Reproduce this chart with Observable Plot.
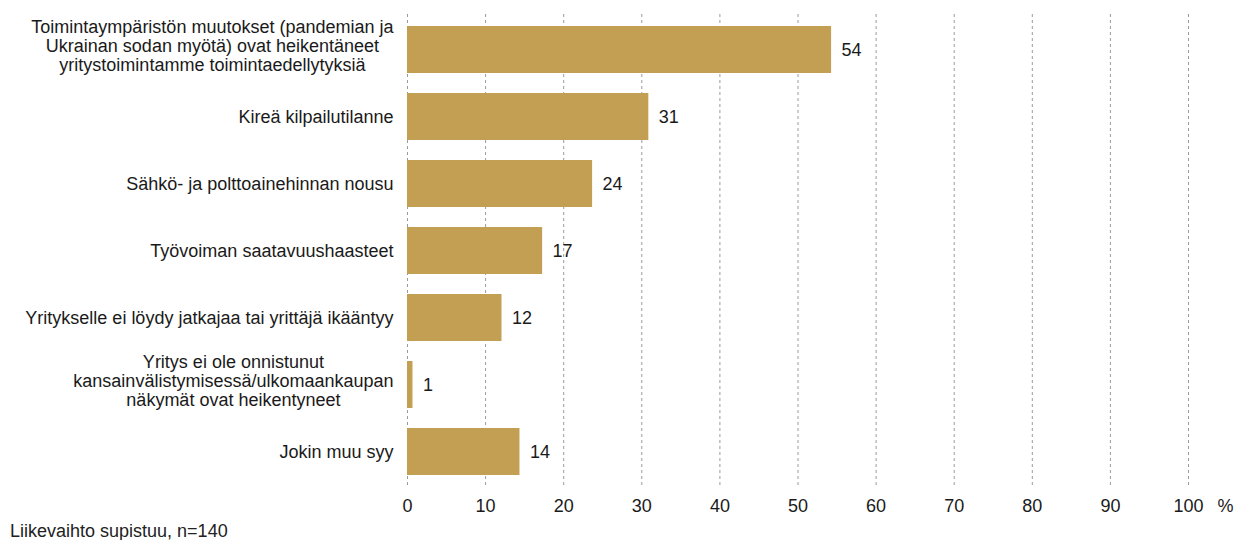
<!DOCTYPE html>
<html>
<head>
<meta charset="utf-8">
<script src="https://cdn.jsdelivr.net/npm/d3@7"></script>
<script src="https://cdn.jsdelivr.net/npm/@observablehq/plot@0.6"></script>
<style>
  html, body { margin: 0; padding: 0; background: #fff; }
  #caption { font-family: "Liberation Sans", Arial, sans-serif; font-size: 18px; line-height: 18px; color: #222; margin-left: 10px; }
</style>
</head>
<body>
<div id="chart"></div>
<div id="caption">Liikevaihto supistuu, n=140</div>
<script>
const categories = [
  "Toimintaympäristön muutokset (pandemian ja\nUkrainan sodan myötä) ovat heikentäneet\nyritystoimintamme toimintaedellytyksiä",
  "Kireä kilpailutilanne",
  "Sähkö- ja polttoainehinnan nousu",
  "Työvoiman saatavuushaasteet",
  "Yritykselle ei löydy jatkajaa tai yrittäjä ikääntyy",
  "Yritys ei ole onnistunut\nkansainvälistymisessä/ulkomaankaupan\nnäkymät ovat heikentyneet",
  "Jokin muu syy"
];
const values = [54.3, 30.9, 23.7, 17.3, 12.1, 0.7, 14.4];
const xTicks = [0, 10, 20, 30, 40, 50, 60, 70, 80, 90, 100];
const unitLabel = "%";

const data = categories.map((c, i) => ({cat: c, value: values[i]}));

const FONT = "18px 'Liberation Sans'";
const ctx = document.createElement("canvas").getContext("2d");
ctx.font = FONT;
const blockWidth = s => Math.max(...s.split("\n").map(l => ctx.measureText(l).width));

const labelMarks = categories.map(c => Plot.text([c], {
  y: d => d,
  frameAnchor: "left",
  text: d => d,
  textAnchor: "middle",
  lineHeight: 1.06,
  dx: -(14 + blockWidth(c) / 2),
  dy: c.includes("\n") ? -4 : 0,
  fill: "#1a1a1a"
}));

const chart = Plot.plot({
  width: 1236,
  height: 522,
  marginLeft: 407,
  marginRight: 48,
  marginTop: 14,
  marginBottom: 36,
  style: {fontFamily: "'Liberation Sans', Arial, sans-serif", fontSize: "18px", color: "#1a1a1a", background: "#fff"},
  x: {domain: [0, 100], axis: null},
  y: {domain: categories, paddingInner: 0.3, paddingOuter: 0.15, axis: null},
  marks: [
    Plot.gridX(xTicks, {stroke: "#9a9a9a", strokeOpacity: 1, strokeWidth: 1, strokeDasharray: "3,3"}),
    Plot.barX(data, {x: "value", y: "cat", fill: "#C29F52"}),
    Plot.text(data, {x: "value", y: "cat", text: d => String(Math.round(d.value)), dx: 10, textAnchor: "start", fill: "#1a1a1a"}),
    Plot.axisX(xTicks, {tickSize: 0, tickPadding: 13, tickFormat: d => String(d), label: null, fill: "#1a1a1a"}),
    Plot.text([unitLabel], {x: () => xTicks[xTicks.length - 1], frameAnchor: "bottom", text: d => d, dy: 25, dx: 37, fill: "#1a1a1a"}),
    ...labelMarks
  ]
});
document.getElementById("chart").appendChild(chart);
</script>
</body>
</html>
